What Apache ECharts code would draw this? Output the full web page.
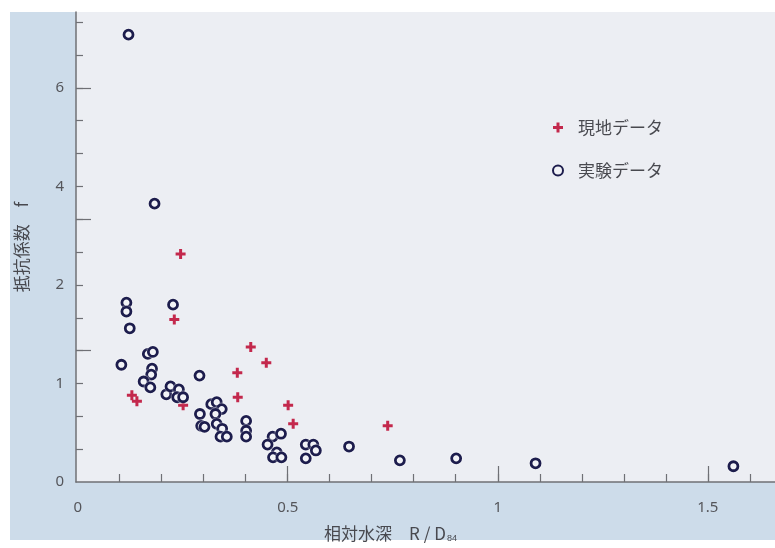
<!DOCTYPE html>
<html>
<head>
<meta charset="utf-8">
<script src="https://cdn.jsdelivr.net/npm/echarts@6/dist/echarts.min.js"></script>
<style>
html, body { margin: 0; padding: 0; background: #fff; }
#main { width: 775px; height: 548px; }
</style>
</head>
<body>
<div id="main"></div>
<script>
// 現地データ (field data)
var fieldX = [0.129, 0.141, 0.230, 0.245, 0.251, 0.380, 0.381, 0.412, 0.449, 0.501, 0.513, 0.738];
var fieldY = [0.88, 0.82, 1.65, 2.63, 0.78, 1.11, 0.86, 1.37, 1.21, 0.78, 0.59, 0.57];

// 実験データ (experiment data)
var labX = [0.121, 0.183, 0.116, 0.116, 0.124, 0.227, 0.104, 0.167, 0.179, 0.177,
            0.175, 0.157, 0.173, 0.211, 0.221, 0.241, 0.237, 0.251, 0.290, 0.291,
            0.294, 0.302, 0.318, 0.331, 0.343, 0.328, 0.331, 0.344, 0.340, 0.355,
            0.401, 0.401, 0.401, 0.464, 0.484, 0.452, 0.474, 0.465, 0.485, 0.543,
            0.561, 0.567, 0.543, 0.646, 0.767, 0.901, 1.090, 1.561];
var labY = [7.08, 3.65, 1.82, 1.73, 1.56, 1.80, 1.19, 1.30, 1.32, 1.15,
            1.09, 1.02, 0.96, 0.89, 0.97, 0.94, 0.86, 0.86, 1.08, 0.69,
            0.57, 0.56, 0.79, 0.81, 0.74, 0.69, 0.59, 0.54, 0.46, 0.46,
            0.62, 0.52, 0.46, 0.46, 0.49, 0.38, 0.30, 0.25, 0.25, 0.38,
            0.38, 0.32, 0.24, 0.36, 0.22, 0.24, 0.19, 0.16];

// 目盛ラベル
var xTickLabels = [0, 0.5, 1, 1.5];
var yTickLabels = [0, 1, 2, 4, 6];

// 縦軸は 2 を境に縮尺が半分になる
function toAxis(v) {
    return v <= 2 ? v : 2 + (v - 2) / 2;
}

function pairs(xs, ys) {
    return xs.map(function (x, i) { return [x, toAxis(ys[i])]; });
}

var xMinor = [];
for (var i = 1; i <= 16; i++) xMinor.push(i / 10);
var yMinor = [];
for (var k = 1; k <= 14; k++) yMinor.push(k / 3);

var axisColor = '#6f7075';
var textColor = '#48494f';
var labelStyle = { color: '#55565b', fontSize: 15, fontFamily: 'Noto Sans, sans-serif' };
var crossPath = 'path://M3.5,0h3v10h-3zM0,3.5h10v3h-10z';

var myChart = echarts.init(document.getElementById('main'));
var option = {
    backgroundColor: '#ffffff',
    animation: false,
    graphic: [{
        type: 'rect',
        z: -10,
        shape: { x: 10, y: 12, width: 765, height: 528 },
        style: { fill: '#cddcea' }
    }],
    grid: {
        left: 76, right: 0, top: 12, bottom: 59,
        show: true, backgroundColor: '#eceef3', borderWidth: 0
    },
    legend: {
        orient: 'vertical',
        left: 547, top: 114,
        itemGap: 26,
        itemWidth: 10, itemHeight: 10,
        textStyle: { color: textColor, fontSize: 17, fontFamily: 'Noto Sans CJK JP', padding: [0, 0, 0, 10] },
        data: ['現地データ', '実験データ']
    },
    xAxis: [{
        type: 'value', min: -0.004, max: 1.66,
        name: '{a|相対水深　R / D}{s|84}',
        nameLocation: 'middle', nameGap: 43,
        nameTextStyle: {
            padding: [0, 70, 0, 0],
            rich: {
                a: { fontSize: 17, color: textColor, fontFamily: 'Noto Sans CJK JP' },
                s: { fontSize: 9, color: textColor, verticalAlign: 'bottom', padding: [9, 0, 0, 1] }
            }
        },
        axisLine: { onZero: false, lineStyle: { color: axisColor, width: 1.5 } },
        axisTick: { inside: true, length: 8, customValues: xMinor, lineStyle: { color: axisColor, width: 1.2 } },
        axisLabel: { customValues: xTickLabels, margin: 18, formatter: function (v) { return String(v); }, ...labelStyle },
        splitLine: { show: false }
    }, {
        type: 'value', min: -0.004, max: 1.66, position: 'bottom',
        axisLine: { show: false, onZero: false },
        axisTick: { inside: true, length: 16, customValues: [0.5, 1, 1.5], lineStyle: { color: axisColor, width: 1.2 } },
        axisLabel: { show: false },
        splitLine: { show: false }
    }],
    yAxis: [{
        type: 'value', min: 0, max: 4.77,
        name: '抵抗係数　f',
        nameLocation: 'middle', nameGap: 46, nameRotate: 90,
        nameTextStyle: { fontSize: 17, color: textColor, fontFamily: 'Noto Sans CJK JP' },
        axisLine: { onZero: false, lineStyle: { color: axisColor, width: 1.5 } },
        axisTick: { inside: true, length: 7, customValues: yMinor, lineStyle: { color: axisColor, width: 1.2 } },
        axisLabel: {
            customValues: yTickLabels.map(toAxis), margin: 12,
            formatter: function (v) {
                for (var j = 0; j < yTickLabels.length; j++) {
                    if (Math.abs(toAxis(yTickLabels[j]) - v) < 1e-6) return String(yTickLabels[j]);
                }
                return '';
            },
            ...labelStyle
        },
        splitLine: { show: false }
    }, {
        type: 'value', min: 0, max: 4.77, position: 'left',
        axisLine: { show: false, onZero: false },
        axisTick: { inside: true, length: 15, customValues: [4 / 3, 8 / 3, 4], lineStyle: { color: axisColor, width: 1.2 } },
        axisLabel: { show: false },
        splitLine: { show: false }
    }],
    series: [{
        name: '現地データ',
        type: 'scatter',
        symbol: crossPath,
        symbolSize: 10,
        itemStyle: { color: '#c3284c', opacity: 1 },
        data: pairs(fieldX, fieldY)
    }, {
        name: '実験データ',
        type: 'scatter',
        symbol: 'circle',
        symbolSize: 9,
        itemStyle: { color: '#f1f2f6', borderColor: '#1d1d4d', borderWidth: 2.8, opacity: 1,
                     shadowColor: '#ffffff', shadowBlur: 2 },
        data: pairs(labX, labY)
    }]
};
myChart.setOption(option);
</script>
</body>
</html>
